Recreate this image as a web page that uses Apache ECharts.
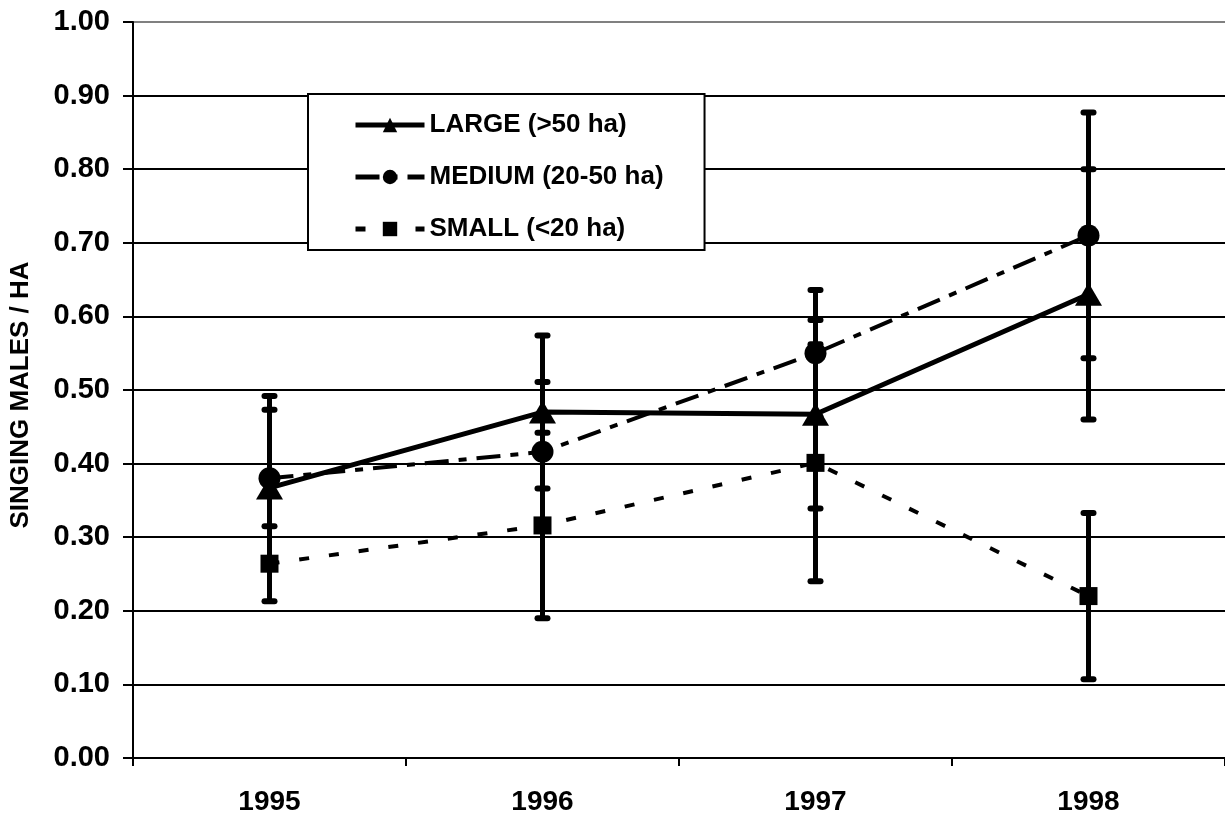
<!DOCTYPE html>
<html>
<head>
<meta charset="utf-8">
<script src="https://cdn.jsdelivr.net/npm/echarts@6/dist/echarts.min.js"></script>
<style>
html,body{margin:0;padding:0;background:#fff;}
#chart{width:1225px;height:819px;}
</style>
</head>
<body>
<div id="chart"></div>
<script>
const years = ['1995', '1996', '1997', '1998'];
const yTicks = [0, 0.1, 0.2, 0.3, 0.4, 0.5, 0.6, 0.7, 0.8, 0.9, 1.0];
const seriesNames = ['LARGE (>50 ha)', 'MEDIUM (20-50 ha)', 'SMALL (<20 ha)'];
const large = [0.367, 0.470, 0.467, 0.630];
const largeErr = [0.106, 0.104, 0.128, 0.170];
const medium = [0.380, 0.416, 0.550, 0.710];
const mediumErr = [0.112, 0.095, 0.086, 0.167];
const small = [0.264, 0.316, 0.401, 0.220];
const smallErr = [0.051, 0.126, 0.161, 0.113];

const FONT = '"Liberation Sans", Arial, sans-serif';

function errData(vals, errs) {
  return vals.map((v, i) => [i, v - errs[i], v + errs[i]]);
}

function renderErr(params, api) {
  const x = api.value(0);
  const lo = api.coord([x, api.value(1)]);
  const hi = api.coord([x, api.value(2)]);
  const capHalf = 5;
  const style = { stroke: '#000', lineWidth: 5, lineCap: 'butt' };
  const capStyle = { stroke: '#000', lineWidth: 6, lineCap: 'round' };
  return {
    type: 'group',
    children: [
      { type: 'line', shape: { x1: lo[0], y1: lo[1], x2: hi[0], y2: hi[1] }, style: style },
      { type: 'line', shape: { x1: hi[0] - capHalf, y1: hi[1], x2: hi[0] + capHalf, y2: hi[1] }, style: capStyle },
      { type: 'line', shape: { x1: lo[0] - capHalf, y1: lo[1], x2: lo[0] + capHalf, y2: lo[1] }, style: capStyle }
    ]
  };
}

const splitColors = yTicks.map((t, i) => i === yTicks.length - 1 ? '#808080' : '#000');
const lineTypes = ['solid', [24, 10, 8, 10], [10, 20]];

const chart = echarts.init(document.getElementById('chart'), null, { renderer: 'canvas' });
chart.setOption({
  animation: false,
  backgroundColor: '#fff',
  textStyle: { fontFamily: FONT },
  grid: { left: 133, right: 0, top: 22, bottom: 61, containLabel: false, outerBoundsMode: 'none' },
  legend: {
    data: seriesNames.map((n, i) => ({ name: n, lineStyle: { width: 5, color: '#000', type: lineTypes[i] } })),
    orient: 'vertical',
    left: 308,
    top: 94,
    itemWidth: 69,
    itemHeight: 18,
    itemGap: 26,
    padding: [18, 41, 8, 45],
    borderColor: '#000',
    borderWidth: 2,
    backgroundColor: '#fff',
    textStyle: { fontFamily: FONT, fontWeight: 'bold', fontSize: 26, color: '#000' }
  },
  xAxis: {
    type: 'category',
    data: years,
    boundaryGap: true,
    axisLine: { lineStyle: { color: '#000', width: 2 } },
    axisTick: { show: true, length: 8, lineStyle: { color: '#000', width: 2 } },
    axisLabel: { margin: 30, fontFamily: FONT, fontWeight: 'bold', fontSize: 28, color: '#000' },
    splitLine: { show: false }
  },
  yAxis: {
    type: 'value',
    min: 0,
    max: 1,
    interval: 0.1,
    name: 'SINGING MALES / HA',
    nameLocation: 'middle',
    nameRotate: 90,
    nameGap: 99,
    nameTextStyle: { fontFamily: FONT, fontWeight: 'bold', fontSize: 26, color: '#000', padding: [0, 10, 0, 0] },
    axisLine: { show: true, lineStyle: { color: '#000', width: 2 } },
    axisTick: { show: true, length: 10, lineStyle: { color: '#000', width: 2 } },
    axisLabel: { margin: 23, fontFamily: FONT, fontWeight: 'bold', fontSize: 29, color: '#000',
      formatter: v => v.toFixed(2) },
    splitLine: { show: true, lineStyle: { color: splitColors, width: 2 } }
  },
  series: [
    {
      type: 'custom', name: 'errLarge', renderItem: renderErr, data: errData(large, largeErr),
      encode: { x: 0, y: [1, 2] }, z: 1, silent: true
    },
    {
      type: 'custom', name: 'errMedium', renderItem: renderErr, data: errData(medium, mediumErr),
      encode: { x: 0, y: [1, 2] }, z: 1, silent: true
    },
    {
      type: 'custom', name: 'errSmall', renderItem: renderErr, data: errData(small, smallErr),
      encode: { x: 0, y: [1, 2] }, z: 1, silent: true
    },
    {
      type: 'line', name: seriesNames[0], data: large, z: 3,
      symbol: 'triangle', symbolSize: [27, 23],
      lineStyle: { color: '#000', width: 5, type: lineTypes[0] },
      itemStyle: { color: '#000', borderWidth: 0 }
    },
    {
      type: 'line', name: seriesNames[1], data: medium, z: 3,
      symbol: 'circle', symbolSize: 22,
      lineStyle: { color: '#000', width: 4, type: lineTypes[1] },
      itemStyle: { color: '#000', borderWidth: 0 }
    },
    {
      type: 'line', name: seriesNames[2], data: small, z: 3,
      symbol: 'rect', symbolSize: 18,
      lineStyle: { color: '#000', width: 4, type: lineTypes[2] },
      itemStyle: { color: '#000', borderWidth: 0 }
    }
  ]
});
</script>
</body>
</html>
